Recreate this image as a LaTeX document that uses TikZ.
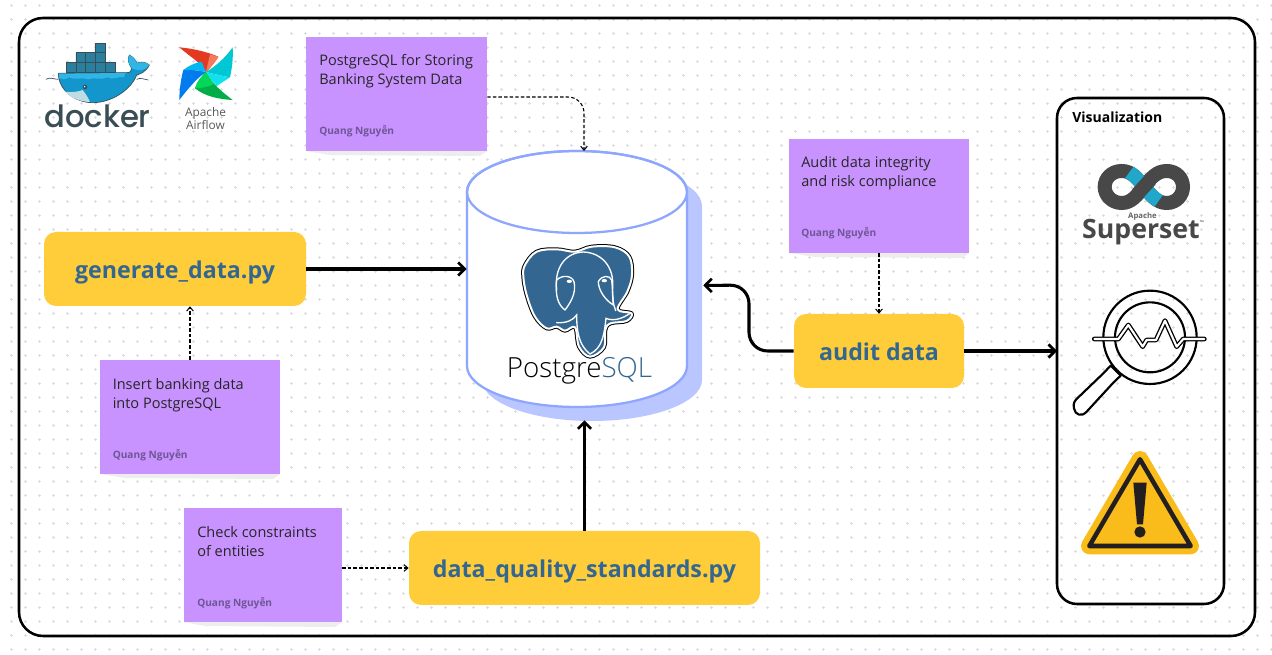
\documentclass[tikz,border=0pt]{standalone}
\usepackage{fontspec}
\setmainfont{Open Sans}
\newfontfamily\dockerfont{Poppins Medium}
\newfontfamily\pgfont{Open Sans Light}
\usetikzlibrary{arrows.meta}
\definecolor{stickyfill}{HTML}{C893FF}
\definecolor{authorcol}{HTML}{6F5596}
\definecolor{boxfill}{HTML}{FFCC3A}
\definecolor{dbedge}{HTML}{8FA6FF}
\definecolor{dbshadow}{HTML}{B9C6FF}
\definecolor{griddot}{HTML}{DCDCE4}
\definecolor{pgblue}{HTML}{336791}
\definecolor{setgrey}{HTML}{484848}
\definecolor{setcyan}{HTML}{20A7C9}
\definecolor{dockerline}{HTML}{394D54}
\definecolor{dockerbox}{HTML}{2A7F9E}
\definecolor{dockerbody}{HTML}{1296CC}
\definecolor{dockerband}{HTML}{2FB6E6}
\definecolor{dockerjaw}{HTML}{BFDCE5}
\definecolor{warnfill}{HTML}{F9BC1A}
\definecolor{warnline}{HTML}{231F20}
\definecolor{flowred}{HTML}{E43921}
\definecolor{flowpeach}{HTML}{F37A5F}
\definecolor{flowteal}{HTML}{00C7D4}
\definecolor{flowcyan}{HTML}{11E1EE}
\definecolor{flowgreen}{HTML}{00AD46}
\definecolor{flowlime}{HTML}{04D659}
\definecolor{flowblue}{HTML}{017CEE}
\definecolor{flowsky}{HTML}{00B7F2}
\tikzset{
  boxnode/.style={fill=boxfill,rounded corners=9pt,minimum height=55.5pt,inner sep=0pt,
    text height=14pt,text depth=0pt,text=pgblue,font=\fontsize{17.4}{22}\selectfont\bfseries},
  sticky/.style={fill=stickyfill,minimum height=85.5pt,inner sep=0pt},
  stickytext/.style={anchor=north west,inner sep=0pt,align=left,text=black!85,
    font=\fontsize{10.9}{14.2}\selectfont},
  author/.style={anchor=west,inner sep=0pt,text=authorcol,
    font=\fontsize{7.6}{9}\selectfont\bfseries},
  paper/.style={fill=black!7},
  mainarrow/.style={line width=2.3pt,-{Straight Barb[length=5pt,width=10pt,line width=2pt]}},
  notearrow/.style={line width=.8pt,dash pattern=on 2.6pt off 1.6pt,
    -{Straight Barb[length=3pt,width=5pt,line width=.8pt]}},
  frame/.style={draw=black,line width=1.9pt}
}
\begin{document}
\begin{tikzpicture}[x=.75pt,y=-.75pt]
  \useasboundingbox (0,0) rectangle (1272,655);
  \fill[white] (0,0) rectangle (1272,655);
  % dotted page
  \foreach \i in {0,...,90}
    \foreach \j in {0,...,46}
      \draw[griddot,line width=.5pt] (9.8+14*\i,5.3+14*\j) -- ++(3,0) (11.3+14*\i,3.8+14*\j) -- ++(0,3);
  \draw[frame,rounded corners=18pt] (19,18) rectangle (1255,636);
  \draw[frame,rounded corners=15pt] (1057,98) rectangle (1224,604);
  \node[anchor=west,inner sep=0pt,font=\fontsize{10.5}{12}\selectfont\bfseries] (vistitle) at (1072,117) {Visualization};
  \coordinate (visin) at (1057,351);

  % database
  \begin{scope}[shift={(15,14)}]
    \fill[dbshadow] (467,192) -- (467,366) arc[start angle=180,end angle=0,x radius=110,y radius=41]
      -- (687,192) arc[start angle=0,end angle=-180,x radius=110,y radius=41] -- cycle;
  \end{scope}
  \filldraw[fill=white,draw=dbedge,line width=1.7pt] (467,192) -- (467,366)
    arc[start angle=180,end angle=0,x radius=110,y radius=41] -- (687,192)
    arc[start angle=0,end angle=-180,x radius=110,y radius=41] -- cycle;
  \draw[draw=dbedge,line width=1.7pt] (577,192) ellipse[x radius=110,y radius=41];
  \node[minimum width=165pt,minimum height=201.75pt,inner sep=0pt] (db) at (577,285) {};
  \node[minimum width=177pt,minimum height=201.75pt,inner sep=0pt] (dbback) at (585,285.5) {};

  % elephant
  \begin{scope}[shift={(450,140)},scale=1/3]
    \def\head{plot[smooth cycle,tension=.6] coordinates {(225,375) (260,335) (320,328) (375,335) (425,320) (495,322) (538,350) (546,405) (532,455) (503,508) (545,520) (530,543) (482,550) (466,570) (462,622) (420,650) (387,620) (375,562) (345,572) (320,560) (290,565) (255,530) (230,465) (220,410)}}
    \draw[black,line width=3pt,line join=round] \head;
    \draw[white,line width=1.5pt,fill=pgblue,line join=round] \head;
    \draw[white,line width=1pt,line cap=round] (320,450) .. controls (312,385) and (345,338) .. (400,336) .. controls (455,338) and (492,380) .. (488,440) .. controls (486,470) and (490,495) .. (497,512);
    \draw[white,line width=1pt,line join=round,line cap=round] (320,420) .. controls (335,405) and (365,405) .. (372,425) .. controls (380,460) and (360,490) .. (345,510) .. controls (325,495) and (315,470) .. (320,420);
    \draw[white,line width=1pt,line join=round,line cap=round] (445,425) .. controls (455,405) and (480,405) .. (485,420) .. controls (488,445) and (488,470) .. (490,495) .. controls (465,480) and (445,450) .. (445,425);
    \draw[white,line width=1pt,line cap=round] (320,548) .. controls (350,550) and (370,540) .. (380,525) .. controls (380,570) and (385,615) .. (420,642) .. controls (455,625) and (462,590) .. (468,535) .. controls (490,545) and (520,535) .. (540,520);
    \fill[white] (358,424) ellipse[x radius=8,y radius=5];
    \fill[white] (463,422) ellipse[x radius=8,y radius=5];
  \end{scope}
  \node[anchor=base,inner sep=0pt,font=\fontsize{20.8}{26}\selectfont\pgfont] (pglabel) at (579.5,378)
    {Postgre\textcolor{pgblue}{SQL}};

  % boxes
  \node[boxnode,minimum width=196.5pt] (gen) at (175,269) {generate\_data.py};
  \node[boxnode,minimum width=127.5pt] (audit) at (879,351) {audit data};
  \node[boxnode,minimum width=263.25pt] (dq) at (584.5,568) {data\_quality\_standards.py};

  % sticky notes
  \fill[paper] (306,151) -- (487,151) -- (480,156) -- (330,155) -- cycle;
  \fill[paper] (789,253) -- (969,253) -- (962,258) -- (815,257) -- cycle;
  \fill[paper] (100,474) -- (280,474) -- (273,479) -- (125,478) -- cycle;
  \fill[paper] (184,622) -- (342,622) -- (335,627) -- (205,626) -- cycle;
  \node[sticky,minimum width=135.75pt] (noteA) at (396.5,94) {};
  \node[sticky,minimum width=135pt] (noteB) at (879,196) {};
  \node[sticky,minimum width=135pt] (noteC) at (190,417) {};
  \node[sticky,minimum width=118.5pt] (noteD) at (263,565) {};
  \node[stickytext] (textA) at (319,54.5) {PostgreSQL for Storing\\Banking System Data};
  \node[stickytext] (textB) at (801,156.5) {Audit data integrity\\and risk compliance};
  \node[stickytext] (textC) at (112.5,378.5) {Insert banking data\\into PostgreSQL};
  \node[stickytext] (textD) at (197,526.5) {Check constraints\\of entities};
  \node[author] (authorA) at (319,131) {Quang Nguyễn};
  \node[author] (authorB) at (801,233) {Quang Nguyễn};
  \node[author] (authorC) at (112.5,455) {Quang Nguyễn};
  \node[author] (authorD) at (197,603) {Quang Nguyễn};

  % arrows
  \coordinate (dbtop) at (584,151);
  \coordinate (dbbend) at (584,97);
  \draw[mainarrow] (gen.east) -- (gen.east -| db.west);
  \draw[mainarrow] (dq.north) -- (dq.north |- dbback.south);
  \draw[mainarrow,rounded corners=14pt] (audit.west) -- (749,351) -- (749,285) -- (dbback.east);
  \draw[mainarrow] (audit.east) -- (visin);
  \draw[notearrow,rounded corners=12pt] (noteA.east |- dbbend) -- (dbbend) -- (dbtop);
  \draw[notearrow] (noteB.south) -- (audit.north);
  \draw[notearrow] (noteC.north) -- (gen.south -| noteC.north);
  \draw[notearrow] (noteD.east |- dq.west) -- (dq.west);

  % docker
  \begin{scope}[shift={(20,20)},scale=1/3]
    \filldraw[fill=dockerbox,draw=dockerline,line width=.4pt] (225,70) rectangle (257,98)
      (168,98) rectangle (257,127) (140,127) rectangle (285,156);
    \draw[dockerline,line width=.3pt] (196,98) -- (196,156) (225,98) -- (225,156) (168,127) -- (168,156) (257,127) -- (257,156);
    \filldraw[fill=dockerbody,draw=dockerline,line width=.5pt,line join=round]
      (115,160) -- (318,158) .. controls (332,160) and (335,150) .. (335,145) .. controls (325,130) and (322,118) .. (328,105)
      .. controls (340,112) and (348,120) .. (350,130) .. controls (362,124) and (378,126) .. (388,135)
      .. controls (378,155) and (362,162) .. (350,165) .. controls (335,205) and (280,248) .. (218,248)
      .. controls (165,248) and (115,210) .. (115,160) -- cycle;
    \fill[dockerband] (117,161) -- (316,159) -- (312,172) .. controls (290,168) and (280,182) .. (262,172)
      .. controls (240,182) and (225,170) .. (205,178) .. controls (185,170) and (165,182) .. (148,172) .. controls (135,180) and (125,178) .. (117,174) -- cycle;
    \fill[dockerband] (335,145) .. controls (325,130) and (322,118) .. (328,105) .. controls (340,112) and (348,120) .. (350,130) .. controls (362,124) and (378,126) .. (388,135) .. controls (378,150) and (360,155) .. (335,145) -- cycle;
    \fill[dockerjaw] (135,215) .. controls (150,218) and (180,215) .. (188,210) .. controls (200,225) and (205,235) .. (210,246)
      .. controls (180,245) and (155,235) .. (135,215) -- cycle;
    \fill[dockerline] (195,201) circle[radius=7];
    \fill[white] (194,200) circle[radius=2.5];
    \draw[dockerline,line width=.5pt] (78,178) .. controls (90,170) and (100,178) .. (115,178) (350,178) .. controls (362,172) and (372,178) .. (385,180);
  \end{scope}
  \node[inner sep=0pt,text=dockerline,font=\fontsize{23}{26}\selectfont\dockerfont] (dockerlabel) at (97.5,116) {docker};

  % airflow
  \begin{scope}[shift={(20,20)},scale=1/3]
    \fill[flowred] (478,82) .. controls (515,85) and (560,95) .. (595,110) .. controls (585,128) and (565,150) .. (558,156) .. controls (545,130) and (510,110) .. (478,82) -- cycle;
    \fill[flowpeach] (570,103) -- (595,110) .. controls (585,128) and (565,150) .. (558,156) -- cycle;
    \fill[flowteal] (638,82) .. controls (640,115) and (636,145) .. (630,172) .. controls (605,168) and (575,160) .. (558,156) .. controls (585,140) and (615,115) .. (638,82) -- cycle;
    \fill[flowcyan] (630,172) .. controls (605,168) and (575,160) .. (558,156) .. controls (565,170) and (578,185) .. (590,198) -- cycle;
    \fill[flowgreen] (638,240) .. controls (600,238) and (555,230) .. (525,205) .. controls (530,185) and (548,165) .. (558,156) .. controls (575,190) and (605,215) .. (638,240) -- cycle;
    \fill[flowlime] (525,205) .. controls (530,185) and (548,165) .. (558,156) .. controls (565,170) and (572,180) .. (582,192) .. controls (565,200) and (545,205) .. (525,205) -- cycle;
    \fill[flowblue] (478,240) .. controls (478,210) and (483,175) .. (490,150) .. controls (510,148) and (540,152) .. (558,156) .. controls (530,175) and (505,205) .. (478,240) -- cycle;
    \fill[flowsky] (490,150) .. controls (505,138) and (525,128) .. (545,125) -- (558,156) .. controls (540,152) and (510,148) .. (490,150) -- cycle;
  \end{scope}
  \node[inner sep=0pt,align=center,text=black!65,font=\fontsize{8.9}{9.8}\selectfont] (airflowlabel) at (205.5,118.5) {Apache\\Airflow};

  % superset
  \begin{scope}[shift={(1050,90)},scale=1/3]
    \draw[setgrey,line width=10.5pt] (282,290) .. controls (262,315) and (245,339) .. (215,339) .. controls (185,339) and (164,315) .. (164,291)
      .. controls (164,265) and (185,243) .. (215,243) .. controls (245,243) and (262,265) .. (282,290)
      .. controls (302,315) and (320,339) .. (350,339) .. controls (380,339) and (399,315) .. (399,291)
      .. controls (399,265) and (380,243) .. (350,243) .. controls (320,243) and (302,265) .. (282,290);
    \draw[setcyan,line width=10.5pt] (238,247) .. controls (255,258) and (268,272) .. (282,290) .. controls (296,308) and (308,322) .. (326,333);
    \draw[setgrey,line width=10.5pt] (262,312) -- (282,290) -- (302,268);
  \end{scope}
  \node[inner sep=0pt,text=black!60,font=\fontsize{5.8}{6}\selectfont\bfseries] (apachelabel) at (1142.5,216) {Apache};
  \node[inner sep=0pt,text=setgrey,font=\fontsize{20}{22}\selectfont\bfseries] (supersetlabel) at (1141,232) {Superset};
  \node[inner sep=0pt,text=setgrey,font=\fontsize{4}{5}\selectfont] (trademark) at (1202,222.5) {™};

  % magnifier
  \begin{scope}[shift={(1050,90)},scale=1/3]
    \draw[black,line width=1.6pt] (300,742) circle[radius=140] (300,742) circle[radius=105];
    \draw[black,line width=1.6pt,line join=round,fill=white] (182,827) -- (212,857) -- (190,878) -- (110,965)
      .. controls (95,982) and (75,975) .. (72,955) .. controls (68,940) and (75,930) .. (85,922) -- (160,850) -- cycle;
    \draw[black,line width=3.6pt,line join=round,line cap=round] (133,747) -- (205,747) -- (235,705) -- (278,770) -- (290,750) -- (318,750) -- (345,692) -- (380,770) -- (400,747) -- (463,747);
    \draw[white,line width=1.6pt,line join=round,line cap=round] (133,747) -- (205,747) -- (235,705) -- (278,770) -- (290,750) -- (318,750) -- (345,692) -- (380,770) -- (400,747) -- (463,747);
  \end{scope}

  % warning sign
  \begin{scope}[shift={(1050,90)},scale=1/3]
    \filldraw[fill=warnfill,draw=warnfill,line width=12.5pt,line join=round] (270,1108) -- (118,1368) -- (422,1368) -- cycle;
    \draw[warnline,line width=3.4pt,line join=round] (270,1108) -- (118,1368) -- (422,1368) -- cycle;
    \fill[warnline] (250,1178) -- (290,1178) -- (279,1303) -- (261,1303) -- cycle;
    \fill[warnline] (270,1326) circle[radius=17];
  \end{scope}
\end{tikzpicture}
\end{document}
